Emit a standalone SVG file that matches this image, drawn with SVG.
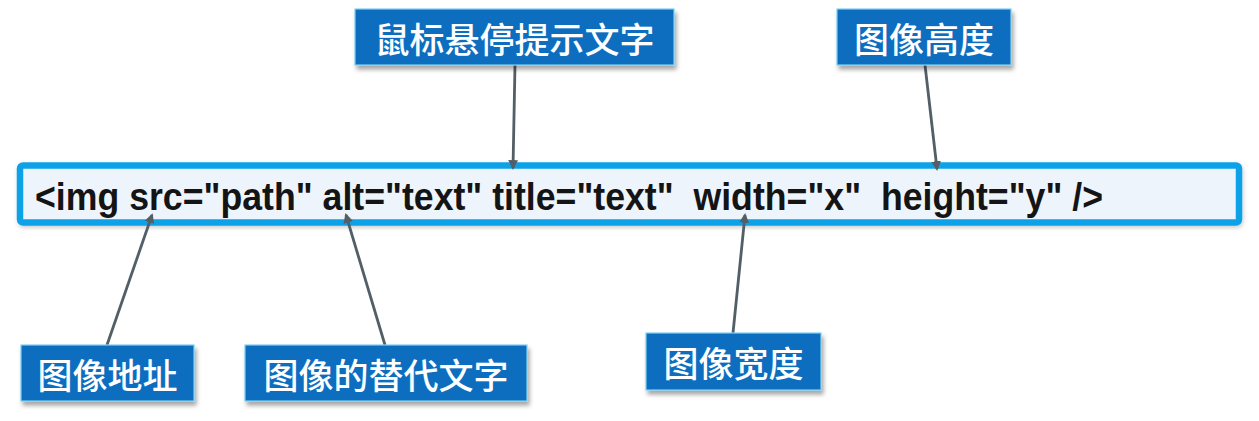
<svg xmlns="http://www.w3.org/2000/svg" width="1259" height="421" viewBox="0 0 1259 421">
  <style>
    .lbl rect { fill: #0a6ec0; stroke: #7fd0f0; stroke-width: 1.2; filter: url(#sh); }
    .lbl text { font-family: "Noto Sans CJK SC", "Noto Sans", sans-serif; font-weight: 500; font-size: 35px; fill: #ffffff; text-anchor: middle; dominant-baseline: central; }
    .conn line { stroke: #525f67; stroke-width: 2.8; marker-end: url(#ah); }
    .code { font-family: "Liberation Sans", Arial, sans-serif; font-weight: bold; font-size: 39px; fill: #141414; }
  </style>
  <defs>
    <filter id="sh" x="-10%" y="-20%" width="125%" height="150%">
      <feDropShadow dx="2" dy="4" stdDeviation="2" flood-color="#000" flood-opacity="0.35"/>
    </filter>
    <filter id="sh2" x="-5%" y="-20%" width="110%" height="150%">
      <feDropShadow dx="1" dy="2" stdDeviation="2" flood-color="#000" flood-opacity="0.2"/>
    </filter>
    <marker id="ah" viewBox="0 0 10 10" refX="8" refY="5" markerWidth="3.5" markerHeight="3.5" orient="auto">
      <path d="M0,0 L10,5 L0,10 z" fill="#525f67"/>
    </marker>
  </defs>
  <rect width="1259" height="421" fill="#ffffff"/>

  <g id="code-box">
    <rect x="20" y="165.5" width="1219" height="57" rx="3" fill="#eef4fc" stroke="#0ea2e8" stroke-width="6.5" filter="url(#sh2)"/>
    <text class="code" x="35" y="210" textLength="1068" lengthAdjust="spacingAndGlyphs" xml:space="preserve">&lt;img src="path" alt="text" title="text"  width="x"  height="y" /&gt;</text>
  </g>

  <g id="connectors" class="conn">
    <line x1="515" y1="65" x2="513" y2="168"/>
    <line x1="925" y1="65" x2="937" y2="169"/>
    <line x1="107" y1="345" x2="152" y2="215"/>
    <line x1="385" y1="345" x2="346" y2="215"/>
    <line x1="733" y1="333" x2="745" y2="215"/>
  </g>

  <g id="label-title" class="lbl">
    <rect x="355" y="9" width="319" height="56"/>
    <text x="514.5" y="37">鼠标悬停提示文字</text>
  </g>
  <g id="label-height" class="lbl">
    <rect x="837" y="9" width="174" height="56"/>
    <text x="924" y="37">图像高度</text>
  </g>
  <g id="label-src" class="lbl">
    <rect x="21" y="345" width="173" height="56"/>
    <text x="107.5" y="373">图像地址</text>
  </g>
  <g id="label-alt" class="lbl">
    <rect x="245" y="345" width="282" height="56"/>
    <text x="386" y="373">图像的替代文字</text>
  </g>
  <g id="label-width" class="lbl">
    <rect x="646" y="333" width="175" height="57"/>
    <text x="733.5" y="361.5">图像宽度</text>
  </g>
</svg>
